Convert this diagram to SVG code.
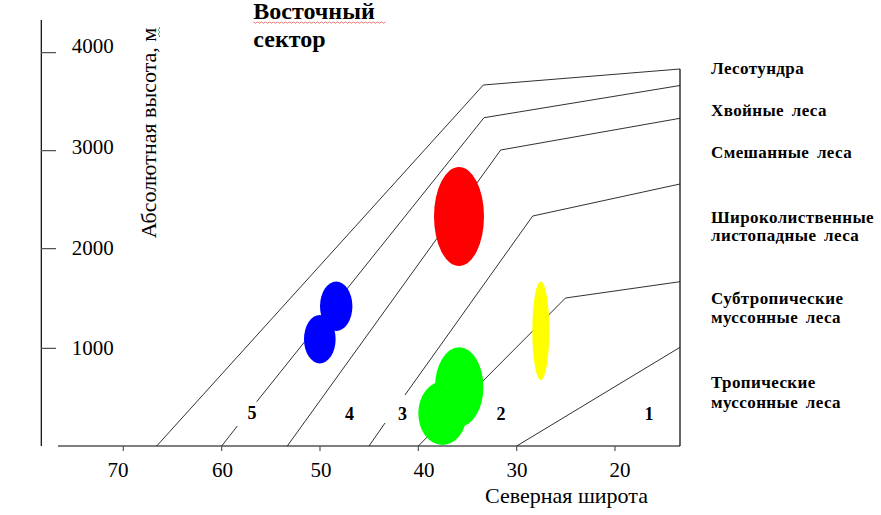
<svg xmlns="http://www.w3.org/2000/svg" width="881" height="515" viewBox="0 0 881 515">
<style>
.ax{stroke:#000;stroke-width:1.2;fill:none}
.tk{stroke:#555;stroke-width:1.2;fill:none}
.bd{stroke:#1a1a1a;stroke-width:0.9;fill:none}
.num{font-family:"Liberation Serif","Times New Roman",serif;font-size:21px;fill:#000}
.lab{font-family:"Liberation Serif","Times New Roman",serif;font-size:22px;fill:#000}
.zone{font-family:"Liberation Serif","Times New Roman",serif;font-size:18px;font-weight:bold;fill:#000;text-anchor:middle}
.leg{font-family:"Liberation Serif","Times New Roman",serif;font-size:17px;font-weight:bold;fill:#000;letter-spacing:0.4px;word-spacing:3px}
.ttl{font-family:"Liberation Serif","Times New Roman",serif;font-size:24px;font-weight:bold;fill:#000}
</style>
<rect width="881" height="515" fill="#fff"/>
<g id="axes">
<path class="ax" d="M41.3,20 V446"/>
<path class="ax" d="M58,446 H680"/>
<path class="ax" d="M680,69 V446"/>
<path class="tk" d="M41,52.7 H56 M41,150.7 H56 M41,248.7 H56 M41,348.3 H56"/>
<path class="tk" d="M123.3,446 V451 M221.7,446 V451 M320,446 V451 M418.3,446 V451 M516.7,446 V451 M615,446 V451"/>
</g>
<g id="connectors">
<path class="bd" d="M156.7,446 L483.3,85 L680,69"/>
<path class="bd" d="M221.7,446 L237.3,426 M256.7,401.7 L484,117.7 L680,85.5"/>
<path class="bd" d="M287.3,446 L500.7,150 L680,118.3"/>
<path class="bd" d="M369,446 L385,423 M405,395 L532.7,216 L680,184"/>
<path class="bd" d="M418.3,446 L565.5,298 L680,281.7"/>
<path class="bd" d="M516.7,446 L680,347.3"/>
</g>
<g id="spots">
<ellipse id="red" cx="459" cy="216.5" rx="25" ry="49.5" fill="#ff0000"/>
<ellipse id="blue1" cx="336.2" cy="306.3" rx="16.2" ry="24.7" fill="#0000ff"/>
<ellipse id="blue2" cx="319.8" cy="339.2" rx="15.8" ry="24.2" fill="#0000ff"/>
<ellipse id="green1" cx="459.2" cy="387" rx="24.2" ry="39.7" fill="#00ff00"/>
<ellipse id="green2" cx="442.5" cy="413.3" rx="24.2" ry="31.7" fill="#00ff00"/>
<ellipse id="yellow" cx="540.8" cy="330.8" rx="8.5" ry="49.2" fill="#ffff00"/>
</g>
<g id="y-labels">
<text class="num" x="71.7" y="53.3">4000</text>
<text class="num" x="71.7" y="154">3000</text>
<text class="num" x="71.7" y="255">2000</text>
<text class="num" x="71.7" y="355">1000</text>
<text class="lab" transform="translate(155.5,238.3) rotate(-90)">Абсолютная высота, м</text>
<path d="M159,27 q2,1 0,2 t0,2 t0,2 t0,2 t0,2" stroke="#3a9a3a" stroke-width="0.8" fill="none"/>
</g>
<g id="x-labels" text-anchor="middle">
<text class="num" x="118" y="477">70</text>
<text class="num" x="222.5" y="477">60</text>
<text class="num" x="321" y="477">50</text>
<text class="num" x="424" y="477">40</text>
<text class="num" x="517" y="477">30</text>
<text class="num" x="620" y="477">20</text>
</g>
<text class="lab" x="485" y="502.7">Северная широта</text>
<g id="zones">
<text class="zone" x="252" y="419">5</text>
<text class="zone" x="349.5" y="420">4</text>
<text class="zone" x="402.5" y="420">3</text>
<text class="zone" x="501" y="420">2</text>
<text class="zone" x="649" y="419.5">1</text>
</g>
<g id="legend">
<text class="leg" x="711" y="74.3">Лесотундра</text>
<text class="leg" x="711" y="116">Хвойные леса</text>
<text class="leg" x="711" y="158.3">Смешанные леса</text>
<text class="leg" x="711" y="223.3">Широколиственные</text>
<text class="leg" x="711" y="240.7">листопадные леса</text>
<text class="leg" x="711" y="304">Субтропические</text>
<text class="leg" x="711" y="323.3">муссонные леса</text>
<text class="leg" x="711" y="388.3">Тропические</text>
<text class="leg" x="711" y="408.3">муссонные леса</text>
</g>
<g id="title">
<text class="ttl" x="253.3" y="19">Восточный</text>
<text class="ttl" x="253.3" y="46.5">сектор</text>
<path d="M253.5,22 l2,1.2 l2,-1.2 l2,1.2 l2,-1.2 l2,1.2 l2,-1.2 l2,1.2 l2,-1.2 l2,1.2 l2,-1.2 l2,1.2 l2,-1.2 l2,1.2 l2,-1.2 l2,1.2 l2,-1.2 l2,1.2 l2,-1.2 l2,1.2 l2,-1.2 l2,1.2 l2,-1.2 l2,1.2 l2,-1.2 l2,1.2 l2,-1.2 l2,1.2 l2,-1.2 l2,1.2 l2,-1.2 l2,1.2 l2,-1.2 l2,1.2 l2,-1.2 l2,1.2 l2,-1.2 l2,1.2 l2,-1.2 l2,1.2 l2,-1.2 l2,1.2 l2,-1.2 l2,1.2 l2,-1.2 l2,1.2 l2,-1.2 l2,1.2 l2,-1.2 l2,1.2 l2,-1.2 l2,1.2 l2,-1.2 l2,1.2 l2,-1.2 l2,1.2 l2,-1.2 l2,1.2 l2,-1.2 l2,1.2 l2,-1.2 l2,1.2 l2,-1.2 l2,1.2 l2,-1.2 l2,1.2 l2,-1.2" stroke="#e04040" stroke-width="0.7" fill="none"/>
</g>
</svg>
